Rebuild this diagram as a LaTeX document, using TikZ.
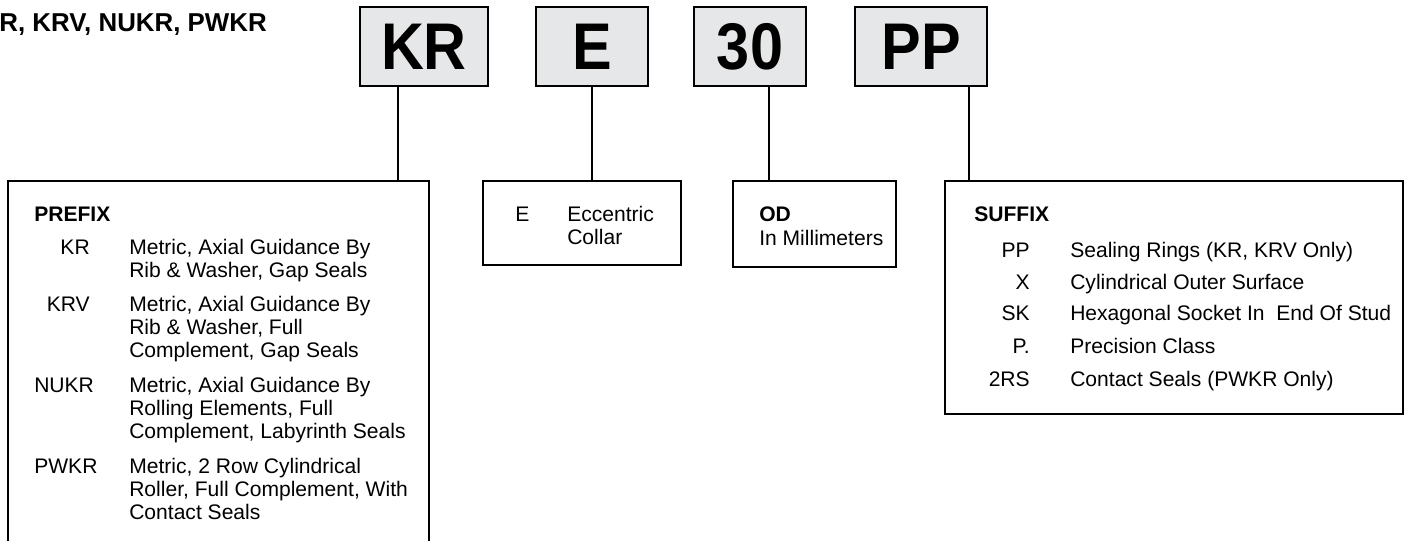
\documentclass[tikz,border=0pt]{standalone}
\usepackage{fontspec}
\setmainfont{Liberation Sans}
\definecolor{boxgray}{HTML}{E6E7E8}
\newcommand{\desclines}[1]{\begin{tabular}[t]{@{}l@{}}#1\end{tabular}}
\begin{document}
\begin{tikzpicture}[x=0.75pt,y=-0.75pt]
\tikzstyle{letter}=[draw=black, line width=1.5pt, fill=boxgray, inner sep=0pt, minimum height=59.25pt, font=\fontsize{49.5}{50}\selectfont\bfseries]
\tikzstyle{frame}=[draw=black, line width=1.5pt, inner sep=0pt]
\tikzstyle{link}=[line width=1.1pt]
\tikzstyle{head}=[anchor=base west, inner sep=0pt, font=\fontsize{15.8}{17.5}\selectfont\bfseries]
\tikzstyle{code}=[anchor=base east, inner sep=0pt, font=\fontsize{15.8}{17.5}\selectfont]
\tikzstyle{desc}=[anchor=base west, inner sep=0pt, font=\fontsize{15.8}{17.5}\selectfont]

\useasboundingbox (0,0) rectangle (1406,540);
\clip (0,0) rectangle (1406,540);

% Title
\node[anchor=base east, inner sep=0pt, font=\fontsize{19.4}{21}\selectfont\bfseries] at (267,31) (title) {R, KRV, NUKR, PWKR};

% Part number
\node[letter, minimum width=96pt] at (424,46.5) (kr) {\scalebox{0.9}[1]{KR}};
\node[letter, minimum width=84pt] at (592,46.5) (e) {\scalebox{0.9}[1]{E}};
\node[letter, minimum width=84pt] at (750,46.5) (size) {\scalebox{0.9}[1]{30}};
\node[letter, minimum width=99pt] at (921,46.5) (pp) {\scalebox{0.9}[1]{PP}};

% Legend boxes
\node[frame, minimum width=315.75pt, minimum height=284.25pt] at (218.5,370.5) (prefix) {};
\node[frame, minimum width=148.5pt, minimum height=63pt] at (582,223) (ecc) {};
\node[frame, minimum width=122.25pt, minimum height=64.5pt] at (814.5,224) (od) {};
\node[frame, minimum width=343.5pt, minimum height=174.75pt] at (1174,297.5) (suffix) {};

% Links
\draw[link] (kr.south -| 398,0) -- (prefix.north -| 398,0);
\draw[link] (e.south) -- (ecc.north -| e.south);
\draw[link] (size.south -| 769,0) -- (od.north -| 769,0);
\draw[link] (pp.south -| 969,0) -- (suffix.north -| 969,0);

% Prefix
\node[head] at (34,221) (prefix_head) {PREFIX};
\node[code] at (90,254) (prefix_1) {KR};
\node[desc] at (129,254) (prefix_txt_1) {\desclines{Metric, Axial Guidance By\\Rib \& Washer, Gap Seals}};
\node[code] at (90,311) (prefix_2) {KRV};
\node[desc] at (129,311) (prefix_txt_2) {\desclines{Metric, Axial Guidance By\\Rib \& Washer, Full\\Complement, Gap Seals}};
\node[code, anchor=base west] at (34,392) (prefix_3) {NUKR};
\node[desc] at (129,392) (prefix_txt_3) {\desclines{Metric, Axial Guidance By\\Rolling Elements, Full\\Complement, Labyrinth Seals}};
\node[code, anchor=base west] at (34,473) (prefix_4) {PWKR};
\node[desc] at (129,473) (prefix_txt_4) {\desclines{Metric, 2 Row Cylindrical\\Roller, Full Complement, With\\Contact Seals}};

% Eccentric / OD
\node[code, anchor=base west] at (515,221) (ecc_code) {E};
\node[desc] at (567,221) (ecc_txt) {\desclines{Eccentric\\Collar}};
\node[head] at (759,221) (od_head) {OD};
\node[desc] at (759,245) (od_txt) {In Millimeters};

% Suffix
\node[head] at (974,221) (suffix_head) {SUFFIX};
\foreach \c/\d/\y [count=\i] in {{PP/Sealing Rings (KR, KRV Only)/257}, {X/Cylindrical Outer Surface/289}, {SK/Hexagonal Socket In\ \ End Of Stud/320}, {P./Precision Class/353}, {2RS/Contact Seals (PWKR Only)/386}}
{
\node[code] at (1030,\y) (suffix_\i) {\c};
\node[desc] at (1070,\y) (suffix_txt_\i) {\d};
}
\end{tikzpicture}
\end{document}
